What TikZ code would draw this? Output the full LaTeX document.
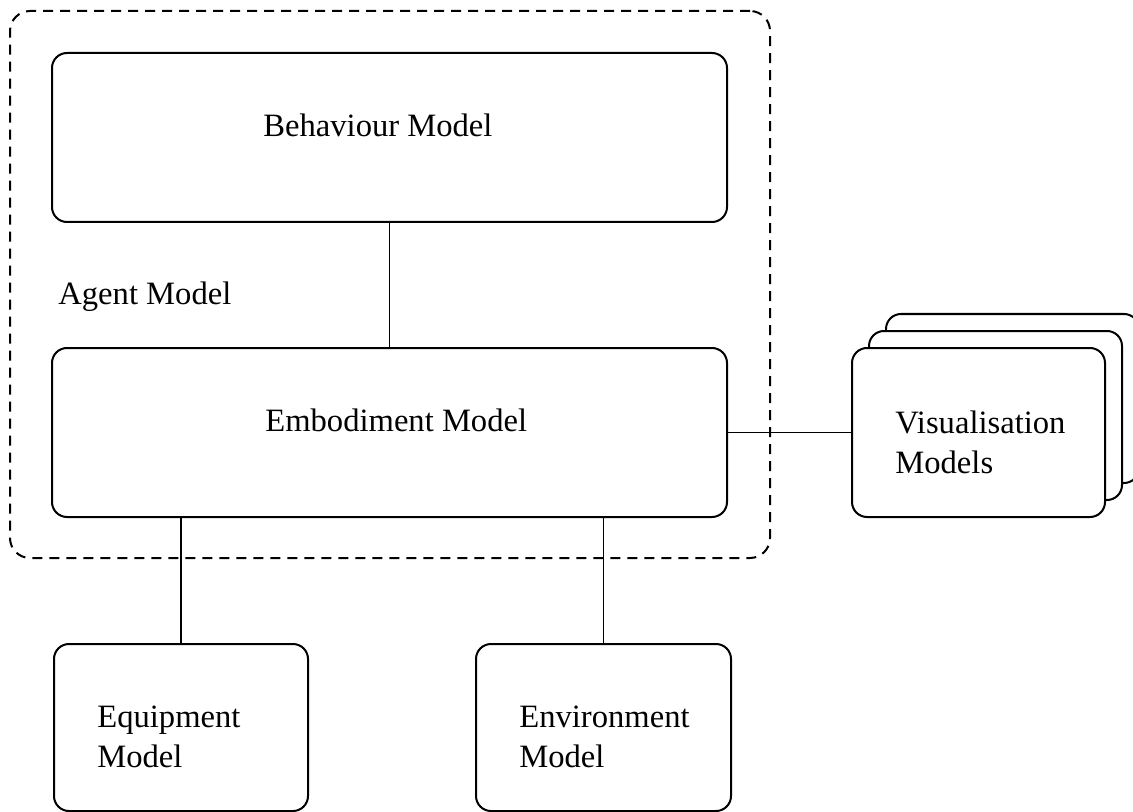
\documentclass[tikz,border=0pt]{standalone}
\usepackage{fontspec}
\setmainfont{Liberation Serif}
\begin{document}
\begin{tikzpicture}[x=0.5pt,y=-0.5pt,
  box/.style={draw, line width=1pt, rounded corners=7.5pt, fill=white, inner sep=0pt},
  link/.style={line width=0.9pt},
  lbl/.style={font=\fontsize{16.3}{19.75}\selectfont, inner sep=0pt, align=left},
  group/.style={draw, line width=1pt, dash pattern=on 5pt off 3.5pt, rounded corners=10pt, inner sep=0pt}]
\useasboundingbox (0,0) rectangle (1133,812);

% dashed frame around the agent model
\node[group, minimum width=380pt, minimum height=273.5pt] (agent) at (390,284.5) {};

% main components
\node[box, minimum width=337.5pt, minimum height=84.5pt] (beh) at (389.5,137.5) {};
\node[box, minimum width=337.5pt, minimum height=84.5pt] (emb) at (389.5,432.5) {};
\node[box, minimum width=127pt, minimum height=83.5pt] (equip) at (181,727.5) {};
\node[box, minimum width=127.5pt, minimum height=83.5pt] (env) at (603.5,727.5) {};

% stacked visualisation models (back to front)
\node[box, minimum width=126.5pt, minimum height=84.5pt] (vis3) at (1012.5,398.5) {};
\node[box, minimum width=126.5pt, minimum height=84.5pt] (vis2) at (995.5,415.5) {};
\node[box, minimum width=126.5pt, minimum height=84.5pt] (vis) at (978.5,432.5) {};

% labels (base anchor of a two-line label sits on its last line)
\node[lbl, anchor=base west] (behtxt) at (263,137) {Behaviour Model};
\node[lbl, anchor=base west] (agenttxt) at (58,305) {Agent Model};
\node[lbl, anchor=base west] (embtxt) at (265,431) {Embodiment Model};
\node[lbl, anchor=base west] (equiptxt) at (97,767) {Equipment\\Model};
\node[lbl, anchor=base west] (envtxt) at (519,767) {Environment\\Model};
\node[lbl, anchor=base west] (vistxt) at (895,473) {Visualisation\\Models};

% connectors
\draw[link] (beh.south) -- (emb.north);
\draw[link] (emb.east) -- (vis.west);
\draw[link] (equip.north) -- (equip.north |- emb.south);
\draw[link] (env.north) -- (env.north |- emb.south);
\end{tikzpicture}
\end{document}
